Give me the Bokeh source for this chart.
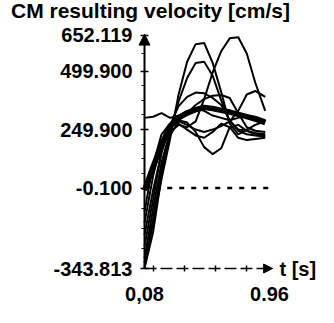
from bokeh.plotting import figure
from bokeh.models import LinearAxis, FixedTicker, Arrow, NormalHead, Label, Range1d
from bokeh.embed import file_html
from bokeh.resources import INLINE

# ---------------- data ----------------
title_text = "CM resulting velocity [cm/s]"
x_label = "t [s]"

t = [0.08, 0.14, 0.20, 0.26, 0.32, 0.38, 0.44, 0.50, 0.56, 0.62, 0.68, 0.74, 0.80, 0.86, 0.93]

trial_a = [-340, -150, 40, 210, 400, 540, 615, 620, 535, 410, 275, 230, 250, 270, 285]
trial_b = [-300, -90, 110, 240, 270, 260, 285, 380, 495, 585, 640, 645, 575, 450, 330]
trial_c = [-320, -130, 80, 245, 370, 470, 535, 540, 480, 375, 285, 250, 245, 235, 230]
trial_d = [-200, -10, 150, 270, 350, 390, 408, 405, 385, 355, 290, 245, 230, 225, 220]
trial_e = [-100, 100, 230, 275, 290, 320, 355, 380, 395, 398, 385, 320, 260, 245, 240]
trial_f = [-343, -190, 50, 225, 285, 270, 250, 240, 250, 265, 285, 330, 400, 415, 390]
trial_g = [-250, -50, 160, 260, 290, 280, 240, 175, 145, 170, 260, 270, 245, 230, 225]
trial_h = [-150, 50, 200, 265, 275, 250, 225, 215, 240, 275, 260, 215, 205, 210, 215]
trial_i = [300, 305, 320, 300, 310, 330, 340, 330, 310, 300, 290, 300, 310, 305, 290]
trials = [trial_a, trial_b, trial_c, trial_d, trial_e, trial_f, trial_g, trial_h, trial_i]

mean_curve = [-10, 90, 185, 265, 300, 320, 335, 345, 340, 332, 325, 315, 305, 295, 280]

y_ticks = [-343.813, -0.1, 249.9, 499.9, 652.119]
y_tick_labels = ["-343.813", "-0.100", "249.900", "499.900", "652.119"]
y_minor = [-257.9, -172.0, -86.0, 62.4, 124.9, 187.4, 312.4, 374.9, 437.4, 575.0]
x_ticks = [0.08, 0.96]
x_tick_labels = ["0,08", "0.96"]
x_minor = [0.14, 0.36, 0.58, 0.80]

ref_level = -0.1
ref_t = [0.24, 0.96]

FONT = "Liberation Sans"

# ---------------- figure ----------------
p = figure(width=318, height=307, output_backend="svg", toolbar_location=None,
           x_axis_location=None, y_axis_location=None, min_border=0,
           x_range=Range1d(-0.93373, 1.30492), y_range=Range1d(-510.51, 801.72))
p.outline_line_color = None
p.xgrid.visible = False
p.ygrid.visible = False
p.background_fill_color = "white"
p.border_fill_color = "white"

for tr in trials:
    p.line(t, tr, line_color="black", line_width=2)
p.line(t, mean_curve, line_color="black", line_width=5.5)

p.line(ref_t, [ref_level, ref_level], line_color="black", line_width=2.5, line_dash="5 7")

# y axis
yaxis = LinearAxis(fixed_location=x_ticks[0],
                   ticker=FixedTicker(ticks=y_ticks, minor_ticks=y_minor),
                   bounds=(y_ticks[0], y_ticks[-1]))
yaxis.major_label_overrides = dict(zip(y_ticks, y_tick_labels))
yaxis.axis_line_width = 2
yaxis.axis_line_color = "black"
yaxis.major_tick_in = 4
yaxis.major_tick_out = 4
yaxis.minor_tick_in = 0
yaxis.minor_tick_out = 3
yaxis.major_tick_line_width = 1.5
yaxis.major_label_text_font = FONT
yaxis.major_label_text_font_style = "bold"
yaxis.major_label_text_font_size = "20px"
yaxis.major_label_text_color = "black"
yaxis.major_label_standoff = 8
p.add_layout(yaxis, "left")

# x axis
xaxis = LinearAxis(fixed_location=y_ticks[0],
                   ticker=FixedTicker(ticks=x_ticks, minor_ticks=x_minor),
                   bounds=(x_ticks[0], x_ticks[-1]))
xaxis.major_label_overrides = dict(zip(x_ticks, x_tick_labels))
xaxis.axis_line_width = 1.5
xaxis.axis_line_color = "black"
xaxis.axis_line_dash = "12 4"
xaxis.major_tick_in = 0
xaxis.major_tick_out = 0
xaxis.minor_tick_in = 3
xaxis.minor_tick_out = 3
xaxis.minor_tick_line_width = 1.5
xaxis.major_label_text_font = FONT
xaxis.major_label_text_font_style = "bold"
xaxis.major_label_text_font_size = "20px"
xaxis.major_label_text_color = "black"
xaxis.major_label_standoff = 15
p.add_layout(xaxis, "below")

# axis arrows
p.add_layout(Arrow(end=NormalHead(size=11, line_color="black", fill_color="black"),
                   x_start=x_ticks[0], y_start=y_ticks[-1] - 40,
                   x_end=x_ticks[0], y_end=y_ticks[-1] + 6,
                   line_color="black", line_width=2))
p.add_layout(Arrow(end=NormalHead(size=9, line_color="black", fill_color="black"),
                   x_start=x_ticks[-1] - 0.05, y_start=y_ticks[0],
                   x_end=x_ticks[-1] + 0.022, y_end=y_ticks[0],
                   line_color="black", line_width=1.5))

p.add_layout(Label(x=0.122, y=760, text=title_text, text_font=FONT,
                   text_font_style="bold", text_font_size="21px",
                   text_align="center", text_baseline="middle", text_color="black"))
p.add_layout(Label(x=1.03, y=y_ticks[0], text=x_label, text_font=FONT,
                   text_font_style="bold", text_font_size="20px",
                   text_align="left", text_baseline="middle", text_color="black"))

open("out.html", "w").write(file_html(p, INLINE))
